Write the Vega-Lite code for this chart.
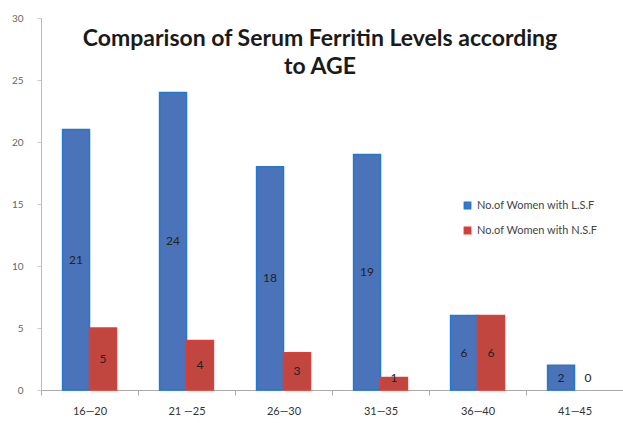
{
  "$schema": "https://vega.github.io/schema/vega-lite/v6.json",
  "width": 582,
  "height": 372,
  "autosize": "none",
  "padding": {"left": 41, "top": 18, "right": 0, "bottom": 33},
  "background": "white",
  "config": {"view": {"stroke": null}},
  "title": {
    "text": ["Comparison of Serum Ferritin Levels according", "to AGE"],
    "font": "Lato",
    "fontSize": 23,
    "fontWeight": "bold",
    "color": "#1a1a1a",
    "anchor": "middle",
    "frame": "group",
    "baseline": "top",
    "lineHeight": 28,
    "offset": -66,
    "dx": -12
  },
  "data": {
    "values": [
      {"age": "16—20", "series": "No.of Women with L.S.F", "value": 21},
      {"age": "16—20", "series": "No.of Women with N.S.F", "value": 5},
      {"age": "21 —25", "series": "No.of Women with L.S.F", "value": 24},
      {"age": "21 —25", "series": "No.of Women with N.S.F", "value": 4},
      {"age": "26—30", "series": "No.of Women with L.S.F", "value": 18},
      {"age": "26—30", "series": "No.of Women with N.S.F", "value": 3},
      {"age": "31—35", "series": "No.of Women with L.S.F", "value": 19},
      {"age": "31—35", "series": "No.of Women with N.S.F", "value": 1},
      {"age": "36—40", "series": "No.of Women with L.S.F", "value": 6},
      {"age": "36—40", "series": "No.of Women with N.S.F", "value": 6},
      {"age": "41—45", "series": "No.of Women with L.S.F", "value": 2},
      {"age": "41—45", "series": "No.of Women with N.S.F", "value": 0}
    ]
  },
  "encoding": {
    "x": {
      "field": "age",
      "type": "nominal",
      "sort": null,
      "title": null,
      "scale": {"paddingInner": 0, "paddingOuter": 0},
      "axis": {
        "labelAngle": 0,
        "labelFont": "Lato",
        "labelFontSize": 11,
        "labelColor": "#333",
        "labelPadding": 10,
        "tickBand": "extent",
        "tickSize": 5,
        "tickColor": "#aaa",
        "domainColor": "#aaa"
      }
    },
    "xOffset": {
      "field": "series",
      "type": "nominal",
      "scale": {"paddingInner": 0, "paddingOuter": 0.8}
    }
  },
  "layer": [
    {
      "mark": {"type": "bar", "strokeWidth": 1.5},
      "encoding": {
        "y": {
          "field": "value",
          "type": "quantitative",
          "title": null,
          "scale": {"domain": [0, 30], "nice": false},
          "axis": {
            "values": [0, 5, 10, 15, 20, 25, 30],
            "grid": false,
            "labelFont": "Lato",
            "labelFontSize": 10,
            "labelColor": "#666",
            "labelPadding": 14,
            "tickSize": 4,
            "tickColor": "#ccc",
            "domainColor": "#bbb"
          }
        },
        "color": {
          "field": "series",
          "type": "nominal",
          "scale": {"range": ["#4a73b9", "#c0463f"]},
          "legend": {
            "title": null,
            "orient": "none",
            "legendX": 421,
            "legendY": 182,
            "symbolType": "square",
            "symbolSize": 40,
            "labelFont": "Lato",
            "labelFontSize": 11,
            "labelColor": "#444",
            "rowPadding": 12
          }
        },
        "stroke": {
          "field": "series",
          "type": "nominal",
          "scale": {"range": ["#1f7ad2", "#e23c35"]},
          "legend": null
        },
        "strokeOpacity": {
          "condition": {"test": "datum.value === 0", "value": 0},
          "value": 1
        }
      }
    },
    {
      "transform": [{"calculate": "max(datum.value / 2, 1)", "as": "mid"}],
      "mark": {"type": "text", "font": "Lato", "fontSize": 12, "color": "#222", "baseline": "middle"},
      "encoding": {
        "y": {"field": "mid", "type": "quantitative"},
        "text": {"field": "value", "type": "quantitative"}
      }
    }
  ]
}
